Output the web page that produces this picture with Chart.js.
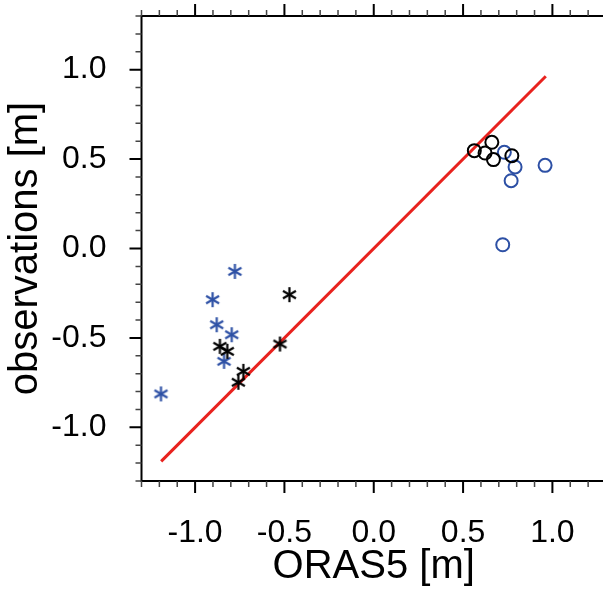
<!DOCTYPE html>
<html>
<head>
<meta charset="utf-8">
<script src="https://cdn.jsdelivr.net/npm/chart.js@4/dist/chart.umd.min.js"></script>
<style>
  html, body { margin: 0; padding: 0; background: #fff; overflow: hidden; }
  canvas { display: block; }
</style>
</head>
<body>
<canvas id="scatter" width="610" height="591"></canvas>
<script>
'use strict'

// values
const majorTicks = [-1.0, -0.5, 0.0, 0.5, 1.0];

const blueStarX = [-0.777, -0.902, -0.879, -0.795, -0.838, -1.191];
const blueStarY = [-0.128, -0.286, -0.426, -0.482, -0.631, -0.813];

const blackStarX = [-0.472, -0.861, -0.820, -0.525, -0.730, -0.758];
const blackStarY = [-0.258, -0.547, -0.575, -0.534, -0.687, -0.748];

const blackCircleX = [0.563, 0.661, 0.623, 0.670, 0.773];
const blackCircleY = [0.547, 0.594, 0.534, 0.497, 0.519];

const blueCircleX = [0.731, 0.791, 0.769, 0.959, 0.722];
const blueCircleY = [0.538, 0.456, 0.379, 0.465, 0.021];

const lineX = [-1.19, 0.963];
const lineY = [-1.19, 0.963];

const BLUE = '#2d50a5';
const RED = '#e8221e';
const FONT = "'Liberation Sans', Arial, Helvetica, sans-serif";

function toPoints(xs, ys) {
    return xs.map((x, i) => ({ x: x, y: ys[i] }));
}

// six-armed asterisk marker
function makeStar(color) {
    const c = document.createElement('canvas');
    c.width = 19;
    c.height = 19;
    const ctx = c.getContext('2d');
    const r = 7.5;
    ctx.strokeStyle = color;
    ctx.lineWidth = 2.2;
    ctx.lineCap = 'butt';
    [90, 30, 150].forEach(deg => {
        const a = deg * Math.PI / 180;
        ctx.beginPath();
        ctx.moveTo(9.5 - r * Math.cos(a), 9.5 - r * Math.sin(a));
        ctx.lineTo(9.5 + r * Math.cos(a), 9.5 + r * Math.sin(a));
        ctx.stroke();
    });
    return c;
}

// frame with outward NCL-style major and minor ticks
const frameTicks = {
    id: 'frameTicks',
    afterDraw(chart) {
        const ctx = chart.ctx;
        const a = chart.chartArea;
        const xs = chart.scales.x;
        const ys = chart.scales.y;
        ctx.save();
        ctx.strokeStyle = '#000';
        ctx.lineWidth = 2;
        ctx.strokeRect(a.left, a.top, a.right - a.left, a.bottom - a.top);

        for (let k = -13; k <= 13; k++) {
            const v = k / 10;
            const major = k % 5 === 0;
            const len = major ? 12 : 6;
            ctx.lineWidth = major ? 2 : 1.5;
            ctx.strokeStyle = major ? '#000' : '#444';
            const px = xs.getPixelForValue(v);
            const py = ys.getPixelForValue(v);
            ctx.beginPath();
            ctx.moveTo(px, a.bottom); ctx.lineTo(px, a.bottom + len);
            ctx.moveTo(px, a.top); ctx.lineTo(px, a.top - len);
            ctx.moveTo(a.left, py); ctx.lineTo(a.left - len, py);
            ctx.moveTo(a.right, py); ctx.lineTo(a.right + len, py);
            ctx.stroke();
        }
        ctx.restore();
    }
};

const blueStar = makeStar(BLUE);
const blackStar = makeStar('#000');

function pinX(s) { s.height = 110; s.paddingLeft = 0; s.paddingRight = 0; }
function pinY(s) { s.width = 141.5; s.paddingTop = 0; s.paddingBottom = 0; }

new Chart(document.getElementById('scatter'), {
    type: 'scatter',
    data: {
        datasets: [
            {
                data: toPoints(blackCircleX, blackCircleY),
                pointStyle: 'circle', pointRadius: 6.5, borderWidth: 2,
                borderColor: '#000', backgroundColor: 'rgba(0,0,0,0)'
            },
            {
                data: toPoints(blackStarX, blackStarY),
                pointStyle: blackStar
            },
            {
                data: toPoints(blueCircleX, blueCircleY),
                pointStyle: 'circle', pointRadius: 6.5, borderWidth: 2,
                borderColor: BLUE, backgroundColor: 'rgba(0,0,0,0)'
            },
            {
                data: toPoints(blueStarX, blueStarY),
                pointStyle: blueStar
            },
            {
                type: 'line',
                data: toPoints(lineX, lineY),
                borderColor: RED, borderWidth: 3,
                pointRadius: 0, fill: false
            }
        ]
    },
    options: {
        responsive: false,
        animation: false,
        layout: { autoPadding: false, padding: { top: 16, right: 4, left: 0, bottom: 0 } },
        plugins: { legend: { display: false }, tooltip: { enabled: false } },
        scales: {
            x: {
                type: 'linear',
                min: -1.3, max: 1.3,
                border: { display: false },
                grid: { display: false, drawTicks: false },
                afterBuildTicks: s => { s.ticks = majorTicks.map(v => ({ value: v })); },
                afterFit: pinX,
                ticks: {
                    callback: v => v.toFixed(1),
                    color: '#000', padding: 33,
                    font: { family: FONT, size: 32 },
                    maxRotation: 0, autoSkip: false
                },
                title: {
                    display: true, text: 'ORAS5 [m]', color: '#000',
                    font: { family: FONT, size: 40 },
                    padding: { top: 0, bottom: 0 }
                }
            },
            y: {
                type: 'linear',
                min: -1.3, max: 1.3,
                border: { display: false },
                grid: { display: false, drawTicks: false },
                afterBuildTicks: s => { s.ticks = majorTicks.map(v => ({ value: v })); },
                afterFit: pinY,
                ticks: {
                    callback: v => v.toFixed(1),
                    color: '#000', padding: 35,
                    font: { family: FONT, size: 32 },
                    autoSkip: false
                },
                title: {
                    display: true, text: 'observations [m]', color: '#000',
                    font: { family: FONT, size: 40 },
                    padding: { top: 1.5, bottom: 0 }
                }
            }
        }
    },
    plugins: [frameTicks]
});
</script>
</body>
</html>
